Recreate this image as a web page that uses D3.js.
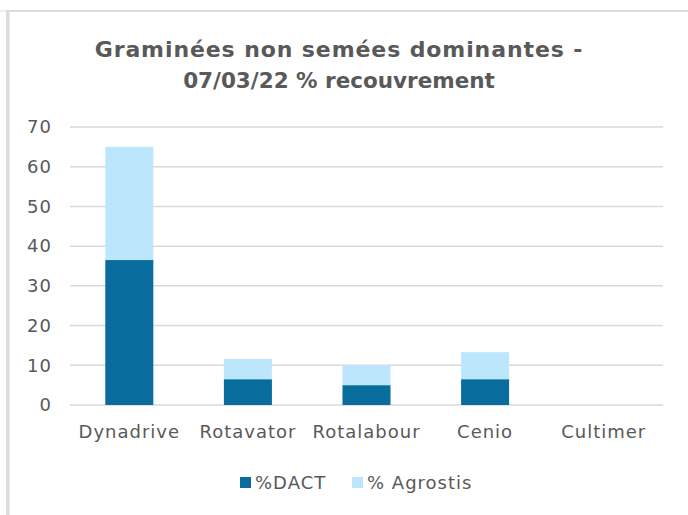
<!DOCTYPE html>
<html>
<head>
<meta charset="utf-8">
<script src="https://cdn.jsdelivr.net/npm/d3@7"></script>
<style>
  body { margin: 0; background: #fff; }
  text { font-family: "DejaVu Sans", sans-serif; fill: #595959; }
</style>
</head>
<body>
<div id="chart"></div>
<script>
var categories = ["Dynadrive", "Rotavator", "Rotalabour", "Cenio", "Cultimer"];
var dact = [36.5, 6.5, 5, 6.5, 0];
var agrostis = [28.5, 5.1, 5, 6.8, 0];
var seriesNames = ["%DACT", "% Agrostis"];
var yTicks = [0, 10, 20, 30, 40, 50, 60, 70];

var colors = ["#086c9c", "#bce6fb"];

var width = 688, height = 515;
var margin = {top: 127, left: 70, right: 25, bottom: 110};

var svg = d3.select("#chart").append("svg")
  .attr("width", width)
  .attr("height", height);

// outer frame (light grey borders)
svg.append("rect").attr("x", 6).attr("y", 10).attr("width", 3.5).attr("height", height - 10).attr("fill", "#dcdcdc");
svg.append("rect").attr("x", 8).attr("y", 10).attr("width", width - 8).attr("height", 2).attr("fill", "#dcdcdc");
svg.append("rect").attr("x", 0).attr("y", 10).attr("width", 6).attr("height", 2).attr("fill", "#ececec");

var x = d3.scaleBand()
  .domain(categories)
  .range([margin.left, width - margin.right])
  .paddingInner(0.595)
  .paddingOuter(0.2975);

var y = d3.scaleLinear()
  .domain([0, 70])
  .range([height - margin.bottom, margin.top]);

// gridlines
svg.append("g")
  .selectAll("line")
  .data(yTicks)
  .enter()
  .append("line")
  .attr("x1", margin.left)
  .attr("x2", width - margin.right)
  .attr("y1", function(d){ return y(d); })
  .attr("y2", function(d){ return y(d); })
  .attr("stroke", "#d9d9d9")
  .attr("stroke-width", 1.5);

// stacked data
var rows = categories.map(function(c, i){
  return {cat: c, dact: dact[i], agrostis: agrostis[i]};
});
var stack = d3.stack().keys(["dact", "agrostis"]);
var layers = stack(rows);

svg.append("g")
  .selectAll("g")
  .data(layers)
  .enter()
  .append("g")
  .attr("fill", function(d, i){ return colors[i]; })
  .selectAll("rect")
  .data(function(d){ return d; })
  .enter()
  .append("rect")
  .attr("x", function(d){ return x(d.data.cat); })
  .attr("width", x.bandwidth())
  .attr("y", function(d){ return y(d[1]); })
  .attr("height", function(d){ return y(d[0]) - y(d[1]); });

// y axis labels
var yAxis = d3.axisLeft(y).tickValues(yTicks).tickSize(0).tickPadding(18);
var gy = svg.append("g")
  .attr("transform", "translate(" + margin.left + ",0)")
  .call(yAxis);
gy.select(".domain").remove();
gy.selectAll("text").style("font-size", "18px").style("letter-spacing", "1px").attr("fill", "#595959");

// x axis labels
var xAxis = d3.axisBottom(x).tickSize(0).tickPadding(20);
var gx = svg.append("g")
  .attr("transform", "translate(0," + y(0) + ")")
  .call(xAxis);
gx.select(".domain").remove();
gx.selectAll("text").style("font-size", "18px").style("letter-spacing", "1px").attr("fill", "#595959");

// title
var title = svg.append("text")
  .attr("text-anchor", "middle")
  .style("font-weight", "bold")
  .attr("fill", "#595959");
title.append("tspan").attr("x", 339).attr("y", 57)
  .style("font-size", "22px").style("letter-spacing", "0.9px")
  .text("Graminées non semées dominantes -");
title.append("tspan").attr("x", 339).attr("y", 88)
  .style("font-size", "21.5px").style("letter-spacing", "0px")
  .text("07/03/22 % recouvrement");

// legend
var legendX = [240, 352];
var legend = svg.append("g")
  .selectAll("g")
  .data(seriesNames)
  .enter()
  .append("g")
  .attr("transform", function(d, i){ return "translate(" + legendX[i] + ",477)"; });
legend.append("rect")
  .attr("width", 11)
  .attr("height", 11)
  .attr("fill", function(d, i){ return colors[i]; });
legend.append("text")
  .attr("x", 15)
  .attr("y", 12)
  .style("font-size", "18px")
  .style("letter-spacing", "1px")
  .text(function(d){ return d; });
</script>
</body>
</html>
